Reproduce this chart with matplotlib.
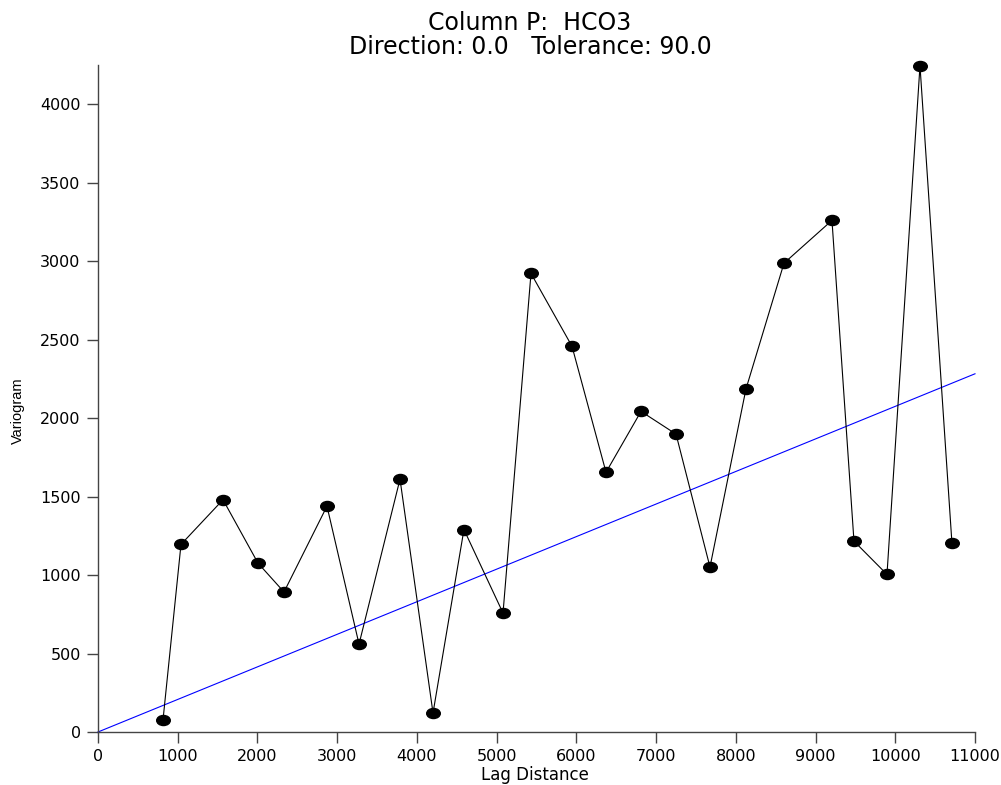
import matplotlib
matplotlib.use("Agg")
import matplotlib.pyplot as plt
from matplotlib.path import Path
from matplotlib.transforms import Affine2D

# Experimental variogram for HCO3 (lag distance vs. semivariance)
lag = [815, 1041, 1568, 2007, 2333, 2872, 3274, 3788, 4202, 4590, 5080, 5431,
       5945, 6372, 6811, 7250, 7676, 8127, 8604, 9206, 9482, 9896, 10310, 10711]
gamma = [75, 1195, 1480, 1076, 892, 1439, 560, 1611, 121, 1290, 758, 2922,
         2458, 1655, 2043, 1898, 1051, 2185, 2987, 3260, 1216, 1004, 4245, 1202]

# Linear model fit: slope per unit lag
model_x = [0, 11000]
model_slope = 0.2075

x_ticks = list(range(0, 11001, 1000))
y_ticks = list(range(0, 4001, 500))

plt.rcParams['font.family'] = ['DejaVu Sans']

fig = plt.figure(figsize=(10.01, 7.85), dpi=100)
ax = fig.add_axes([98 / 1001, 53 / 785, 877 / 1001, 667 / 785])

ellipse = Path.unit_circle().transformed(Affine2D().scale(1.35, 1.0))

ax.plot(model_x, [model_slope * v for v in model_x], color='#0000ff', lw=0.8,
        zorder=2, clip_on=False)
ax.plot(lag, gamma, color='black', lw=0.8, marker=ellipse, markersize=9.8,
        markerfacecolor='black', markeredgecolor='black', zorder=3, clip_on=False)

ax.set_xlim(0, 11000)
ax.set_ylim(0, 4250)
ax.set_xticks(x_ticks)
ax.set_yticks(y_ticks)
ax.tick_params(direction='out', length=8, width=1, color='#444444',
               labelsize=11.5, pad=4.5)

for side in ('top', 'right'):
    ax.spines[side].set_visible(False)
for side in ('left', 'bottom'):
    ax.spines[side].set_color('#444444')
    ax.spines[side].set_linewidth(1)

fig.text(530 / 1001, 1 - 23 / 785, 'Column P:  HCO3', ha='center', va='center',
         fontsize=17)
fig.text(530 / 1001, 1 - 47 / 785, 'Direction: 0.0   Tolerance: 90.0', ha='center',
         va='center', fontsize=17)

fig.text(535 / 1001, 1 - 775 / 785, 'Lag Distance', ha='center', va='center',
         fontsize=12)
fig.text(18 / 1001, 1 - 411 / 785, 'Variogram', ha='center', va='center',
         rotation=90, fontsize=10.5, family=['Liberation Sans', 'DejaVu Sans'])

fig.savefig('out.png', dpi=100)
